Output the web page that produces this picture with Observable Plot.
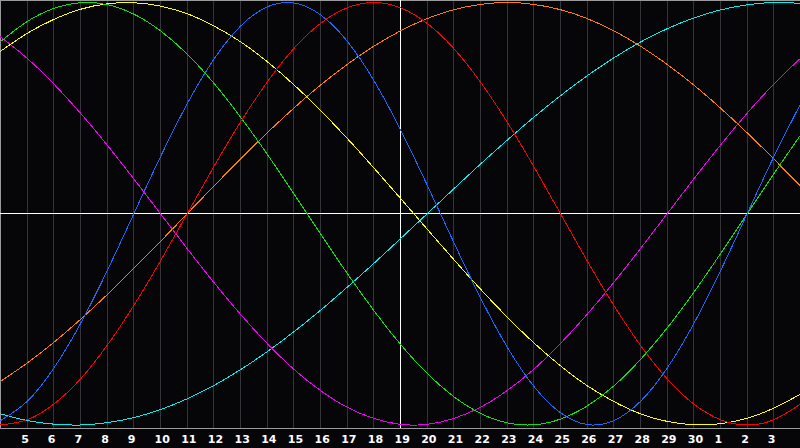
<!DOCTYPE html>
<html><head><meta charset="utf-8">
<script src="https://cdn.jsdelivr.net/npm/d3@7"></script>
<script src="https://cdn.jsdelivr.net/npm/@observablehq/plot@0.6"></script>
<style>html,body{margin:0;padding:0;background:#060609;overflow:hidden}</style>
</head><body><div id="chart"></div>
<script>
// Days along the x axis (continuing past the end of the month: 31 = 1, 32 = 2, ...)
const days = [4,5,6,7,8,9,10,11,12,13,14,15,16,17,18,19,20,21,22,23,24,25,26,27,28,29,30,31,32,33,34];
const tickDays = [5,6,7,8,9,10,11,12,13,14,15,16,17,18,19,20,21,22,23,24,25,26,27,28,29,30,31,32,33];
const tickLabels = ["5","6","7","8","9","10","11","12","13","14","15","16","17","18","19","20","21","22","23","24","25","26","27","28","29","30","1","2","3"];
const today = 19;

// Cycle values, one per day in `days`
const blueValues    = [-0.979,-0.888,-0.731,-0.520,-0.270,0,0.270,0.520,0.731,0.888,0.979,0.998,0.942,0.817,0.631,0.398,0.136,-0.136,-0.398,-0.631,-0.817,-0.942,-0.998,-0.979,-0.888,-0.731,-0.520,-0.270,0,0.270,0.520];
const greenValues   = [0.815,0.910,0.972,0.999,0.990,0.945,0.866,0.756,0.618,0.458,0.282,0.095,-0.095,-0.282,-0.458,-0.618,-0.756,-0.866,-0.945,-0.990,-0.999,-0.972,-0.910,-0.815,-0.690,-0.541,-0.372,-0.189,0,0.189,0.372];
const redValues     = [-1,-0.975,-0.901,-0.782,-0.623,-0.434,-0.223,0,0.223,0.434,0.623,0.782,0.901,0.975,1,0.975,0.901,0.782,0.623,0.434,0.223,0,-0.223,-0.434,-0.623,-0.782,-0.901,-0.975,-1,-0.975,-0.901];
const orangeValues  = [-0.793,-0.707,-0.609,-0.5,-0.383,-0.259,-0.131,0,0.131,0.259,0.383,0.5,0.609,0.707,0.793,0.866,0.924,0.966,0.991,1,0.991,0.966,0.924,0.866,0.793,0.707,0.609,0.5,0.383,0.259,0.131];
const magentaValues = [0.837,0.736,0.614,0.476,0.325,0.165,0,-0.165,-0.325,-0.476,-0.614,-0.736,-0.837,-0.916,-0.969,-0.997,-0.997,-0.969,-0.916,-0.837,-0.736,-0.614,-0.476,-0.325,-0.165,0,0.165,0.325,0.476,0.614,0.736];
const cyanValues    = [-0.947,-0.979,-0.996,-1.000,-0.989,-0.965,-0.927,-0.876,-0.813,-0.738,-0.653,-0.559,-0.457,-0.348,-0.235,-0.118,0,0.118,0.235,0.348,0.457,0.559,0.653,0.738,0.813,0.876,0.927,0.965,0.989,1.000,0.996];
const yellowValues  = [0.769,0.854,0.920,0.968,0.994,0.999,0.983,0.947,0.889,0.814,0.720,0.611,0.489,0.357,0.217,0.073,-0.073,-0.217,-0.357,-0.489,-0.611,-0.720,-0.814,-0.889,-0.947,-0.983,-0.999,-0.994,-0.968,-0.920,-0.854];

const seriesNames  = ["cyan","orange","magenta","yellow","green","red","blue"];
const seriesColors = ["#00f0f0","#ff8000","#f000f0","#ffff00","#10e010","#ff0000","#1a6aff"];
const seriesValues = [cyanValues, orangeValues, magentaValues, yellowValues, greenValues, redValues, blueValues];

const yDomain = [-1.0166, 1.0095];
const toRows = (vals) => vals.map((v, i) => ({day: days[i], value: v}));

const chart = Plot.plot({
  width: 800,
  height: 448,
  marginLeft: 0,
  marginRight: 0,
  marginTop: 0,
  marginBottom: 20,
  style: {background: "#060609", overflow: "visible"},
  x: {domain: [days[0], days[days.length - 1]], axis: null},
  y: {domain: yDomain, axis: null},
  marks: [
    Plot.ruleX(tickDays, {stroke: "#34343a", shapeRendering: "crispEdges"}),
    Plot.ruleY([yDomain[1]], {stroke: "#9a9a9a", shapeRendering: "crispEdges"}),
    Plot.ruleY([yDomain[0]], {stroke: "#9a9a9a", shapeRendering: "crispEdges"}),
    Plot.ruleX([days[0]], {stroke: "#9a9a9a", shapeRendering: "crispEdges"}),
    Plot.ruleY([0], {stroke: "#ffffff", shapeRendering: "crispEdges"}),
    Plot.ruleX([today], {stroke: "#ffffff", shapeRendering: "crispEdges"}),
    ...seriesValues.map((vals, k) =>
      Plot.line(toRows(vals), {x: "day", y: "value", stroke: seriesColors[k], strokeWidth: 1, curve: "natural", shapeRendering: "crispEdges"})
    ),
    Plot.axisX(tickDays, {
      tickSize: 0,
      tickPadding: 7,
      label: null,
      tickFormat: (d) => tickLabels[tickDays.indexOf(d)],
      textAnchor: "start",
      dx: -6,
      fill: "#ffffff",
      fontWeight: "bold",
      fontSize: 11,
      fontFamily: "DejaVu Sans"
    })
  ]
});
document.getElementById("chart").appendChild(chart);
</script>
</body></html>
